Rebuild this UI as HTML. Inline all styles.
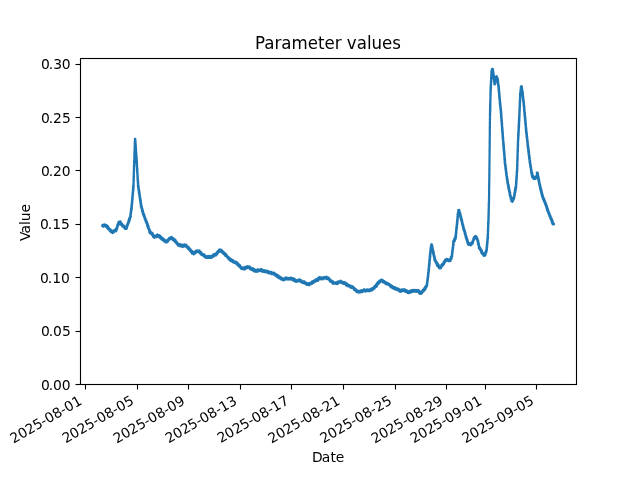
<!DOCTYPE html>
<html lang="en"><head><meta charset="utf-8"><title>Parameter values</title>
<style>html,body{margin:0;padding:0;background:#fff;overflow:hidden}svg{display:block}text{font-family:"DejaVu Sans","Liberation Sans",sans-serif;fill:#000}.t{font-size:13.889px}.h{font-size:16.667px}</style></head><body>
<svg width="640" height="480" viewBox="0 0 640 480">
<rect width="640" height="480" fill="#fff"/>
<path d="M102.3 226.1 102.4 224.8 102.9 226.7 103.0 224.7 103.6 226.7 103.6 224.6 104.1 226.2 104.3 224.9 104.7 226.0 104.8 224.4 105.3 226.4 106.0 224.9 105.1 226.1 106.0 225.3 105.5 226.2 106.8 225.2 106.0 226.4 107.1 225.6 106.2 227.0 107.3 226.3 106.7 227.5 108.1 226.3 107.3 227.7 108.4 227.2 107.5 228.6 108.7 227.7 108.0 229.0 109.2 228.1 108.2 229.2 109.5 228.6 108.8 229.4 109.9 228.8 109.1 230.0 110.3 229.3 109.5 230.1 110.8 229.5 109.7 230.9 111.0 230.1 110.2 231.1 111.3 230.7 110.6 231.7 111.8 231.2 110.9 232.3 112.2 231.5 111.4 232.5 112.7 231.8 112.6 233.2 111.8 231.2 112.8 232.2 112.4 230.8 113.4 232.4 113.0 230.9 114.0 232.3 113.5 230.5 114.5 231.6 114.3 230.6 114.9 231.3 114.5 229.9 115.6 231.2 115.1 229.6 116.2 231.3 115.5 230.3 116.3 230.5 115.7 230.0 116.7 230.1 115.9 229.6 117.0 229.7 115.9 229.1 117.1 229.2 116.2 228.5 117.3 228.6 116.6 227.9 117.4 228.0 116.6 227.3 117.7 227.3 116.8 226.8 117.7 226.8 117.1 226.3 117.9 226.3 117.3 225.7 118.1 225.7 117.4 225.1 118.4 225.3 117.4 224.8 118.7 225.1 117.7 224.3 118.8 224.4 117.9 223.7 119.2 223.9 118.2 223.0 119.5 223.3 118.4 222.3 119.4 222.4 118.6 221.7 119.8 221.9 119.9 221.2 119.0 222.3 120.4 221.4 119.6 222.5 120.8 221.9 120.1 222.9 121.1 222.5 120.2 223.7 121.5 223.1 120.7 224.3 122.0 223.6 121.0 225.0 122.4 224.0 121.8 225.2 122.7 224.7 121.8 225.6 122.7 225.1 122.1 225.9 123.4 225.3 122.5 226.7 123.9 225.4 123.2 226.5 124.1 225.9 123.4 227.0 124.5 226.4 124.0 227.5 125.1 226.9 124.4 228.1 125.6 227.2 124.6 228.7 125.7 228.2 125.1 228.9 126.4 227.9 126.6 229.0 125.6 228.4 126.5 228.5 125.6 227.9 127.0 228.1 126.1 227.4 127.0 227.3 126.1 226.6 127.4 226.7 126.6 226.1 127.6 226.0 126.6 225.3 127.7 225.4 127.0 224.9 127.7 224.9 127.2 224.4 128.3 224.5 127.5 223.9 128.2 223.9 127.6 223.4 128.4 223.4 127.9 222.8 128.6 222.9 128.0 222.3 129.0 222.7 128.2 222.2 128.9 222.1 128.4 221.5 129.3 221.5 128.4 221.0 129.6 220.9 128.7 220.5 129.4 220.3 128.7 219.8 129.9 219.8 129.0 219.2 130.0 219.3 129.1 218.7 130.2 218.8 129.2 218.2 130.1 218.1 129.6 217.6 130.4 217.5 129.9 217.0 130.8 217.0 130.1 216.6 130.9 216.5 130.2 216.2 130.7 216.0 130.2 215.6 130.7 215.4 130.3 215.0 130.9 214.8 130.4 214.4 131.0 214.2 130.5 213.8 131.0 213.6 130.5 213.2 131.1 213.0 130.7 212.7 131.3 212.4 130.6 212.1 131.2 211.8 130.8 211.5 131.3 211.3 130.8 210.9 131.4 210.7 130.9 210.3 131.7 210.1 131.0 209.7 131.7 209.5 131.0 209.1 131.8 208.9 131.3 208.5 131.9 208.3 131.1 207.9 131.9 207.7 131.4 207.5 131.9 207.4 131.4 207.0 131.9 206.8 131.5 206.4 132.1 206.2 131.4 205.8 132.0 205.6 131.5 205.2 132.0 204.9 131.5 204.6 132.2 204.3 131.6 204.0 132.2 203.8 131.8 203.4 132.2 203.2 131.8 202.8 132.3 202.6 131.9 202.3 132.4 202.0 131.9 201.6 132.4 201.4 132.0 201.0 132.5 200.8 131.9 200.4 132.5 200.2 132.1 199.8 132.6 199.6 132.2 199.2 132.7 199.0 132.1 198.6 132.6 198.4 132.2 198.0 132.7 197.7 132.3 197.4 132.8 197.5 132.3 197.1 132.8 196.9 132.3 196.5 132.7 196.3 132.4 195.9 132.8 195.7 132.4 195.3 132.9 195.1 132.5 194.7 133.0 194.5 132.6 194.2 133.0 193.9 132.6 193.6 133.0 193.4 132.6 193.0 133.1 192.8 132.6 192.4 133.2 192.2 132.8 191.8 133.3 191.5 132.8 191.2 133.2 190.9 132.8 190.6 133.3 190.3 132.9 190.0 133.4 189.8 132.9 189.4 133.5 189.2 132.9 188.8 133.4 188.5 133.1 188.2 133.5 187.9 133.0 187.6 133.5 187.3 133.2 187.0 133.6 186.7 133.1 186.4 133.6 186.1 133.2 185.9 133.6 185.6 133.2 185.3 133.7 185.0 133.4 184.9 133.7 184.6 133.4 184.3 133.7 184.0 133.4 183.7 133.6 183.4 133.5 183.1 133.7 182.8 133.5 182.5 133.7 182.2 133.5 181.9 133.8 181.6 133.5 181.3 133.8 181.0 133.5 180.7 133.8 180.4 133.5 180.1 133.9 179.8 133.5 179.5 133.8 179.2 133.5 178.9 133.8 178.6 133.6 178.3 133.9 178.0 133.5 177.7 133.9 177.4 133.6 177.1 133.9 176.8 133.6 176.5 134.0 176.3 133.6 175.9 134.0 175.7 133.7 175.3 133.9 175.0 133.7 174.7 134.0 174.4 133.7 174.1 134.0 173.8 133.7 173.5 134.0 173.2 133.7 172.9 134.0 172.6 133.8 172.3 134.0 172.0 133.8 171.7 134.1 171.4 133.8 171.1 134.1 170.8 133.8 170.5 134.1 170.2 133.8 169.9 134.1 169.6 133.8 169.3 134.1 169.0 133.9 168.7 134.1 168.4 133.9 168.1 134.2 167.8 133.9 167.5 134.2 167.2 133.9 166.9 134.2 166.6 133.9 166.3 134.3 166.0 134.0 165.7 134.3 165.4 134.0 165.1 134.3 164.8 134.1 164.5 134.3 164.2 134.0 163.9 134.4 163.6 134.1 163.3 134.4 163.0 134.1 162.7 134.4 162.4 134.1 162.1 134.3 161.8 134.1 161.5 134.4 161.2 134.1 160.9 134.5 160.6 134.2 160.3 134.4 160.0 134.2 160.0 134.5 159.7 134.2 159.4 134.5 159.1 134.2 158.8 134.5 158.5 134.3 158.2 134.5 157.9 134.3 157.6 134.6 157.3 134.2 157.0 134.5 156.7 134.3 156.4 134.6 156.1 134.3 155.8 134.6 155.5 134.3 155.2 134.6 154.9 134.3 154.6 134.7 154.3 134.4 154.0 134.8 153.7 134.4 153.4 134.7 153.1 134.4 152.8 134.7 152.5 134.4 152.2 134.7 151.9 134.4 151.6 134.8 151.3 134.5 151.0 134.8 150.7 134.5 150.4 134.9 150.1 134.5 149.8 134.8 149.5 134.6 149.2 134.9 148.9 134.6 148.6 134.9 148.3 134.5 148.0 134.9 147.7 134.6 147.4 135.0 147.1 134.6 146.8 135.0 146.5 134.6 146.2 135.0 145.9 134.7 145.6 135.0 145.3 134.7 145.0 135.1 144.8 134.8 144.5 135.1 144.2 134.7 143.8 135.1 143.6 134.7 143.2 135.2 143.0 134.7 142.6 135.1 142.3 134.8 142.0 135.1 141.7 134.9 141.4 135.2 141.1 134.8 140.8 135.2 140.5 134.9 140.2 135.2 140.0 134.9 139.6 135.3 139.4 135.0 139.1 134.9 138.8 135.3 138.8 135.0 139.1 135.4 139.4 135.0 139.7 135.4 140.0 134.9 140.3 135.5 140.6 135.1 140.9 135.4 141.2 135.1 141.5 135.6 141.8 135.1 142.1 135.5 142.4 135.2 142.7 135.6 143.0 135.1 143.3 135.7 143.6 135.3 143.9 135.7 144.2 135.3 144.5 135.8 144.8 135.3 145.1 135.8 145.4 135.3 145.7 135.9 146.0 135.4 146.3 135.8 146.6 135.5 146.9 135.9 147.2 135.6 147.5 135.9 147.8 135.6 148.1 136.0 148.4 135.5 148.7 136.1 149.0 135.6 149.3 136.0 149.6 135.7 149.9 136.0 150.2 135.8 150.5 136.1 150.8 135.7 151.1 136.3 151.4 135.8 151.7 136.2 152.0 135.8 152.3 136.3 152.6 135.9 153.0 136.3 153.2 136.0 153.6 136.4 153.8 135.9 154.2 136.4 154.4 136.0 154.8 136.4 155.0 136.0 155.3 136.6 155.6 136.2 155.9 136.6 156.2 136.1 156.5 136.6 156.8 136.1 157.2 136.6 157.4 136.2 157.7 136.7 158.0 136.4 158.3 136.8 158.6 136.4 158.9 136.7 159.2 136.3 159.5 136.8 159.8 136.5 160.0 136.8 160.1 136.4 160.4 136.9 160.7 136.4 161.0 136.9 161.3 136.4 161.6 137.0 161.9 136.5 162.2 136.9 162.5 136.5 162.8 137.0 163.1 136.7 163.4 137.1 163.6 136.6 164.0 137.1 164.3 136.7 164.6 137.1 164.9 136.6 165.2 137.1 165.5 136.7 165.8 137.1 166.1 136.8 166.4 137.2 166.6 136.9 167.0 137.1 167.2 136.9 167.6 137.3 167.8 136.9 168.2 137.4 168.4 136.9 168.8 137.4 169.0 136.9 169.4 137.3 169.6 137.1 170.0 137.5 170.2 137.0 170.6 137.4 170.8 137.0 171.2 137.4 171.4 137.2 171.8 137.5 172.1 137.2 172.4 137.5 172.7 137.1 173.0 137.6 173.3 137.3 173.6 137.6 173.9 137.3 174.2 137.6 174.5 137.3 174.8 137.7 175.1 137.4 175.4 137.7 175.7 137.4 176.0 137.8 176.3 137.4 176.6 137.8 176.9 137.4 177.2 137.8 177.5 137.5 177.8 137.8 178.0 137.5 178.4 137.9 178.6 137.5 179.0 137.9 179.2 137.6 179.6 138.0 179.8 137.6 180.2 138.1 180.5 137.7 180.8 138.1 181.0 137.6 181.4 138.1 181.6 137.7 181.9 138.2 182.2 137.8 182.6 138.2 182.9 137.8 183.2 138.3 183.5 137.8 183.8 138.3 184.0 137.9 184.3 138.3 184.6 137.9 185.0 138.5 185.0 137.9 185.3 138.4 185.6 138.0 185.9 138.6 186.1 137.9 186.5 138.6 186.7 138.1 187.1 138.8 187.3 138.1 187.8 138.8 188.0 138.4 188.3 138.9 188.6 138.4 188.9 139.0 189.1 138.4 189.5 139.1 189.7 138.6 190.1 139.2 190.3 138.5 190.7 139.4 190.9 138.9 191.2 139.4 191.4 138.9 191.8 139.5 192.0 138.8 192.4 139.6 192.6 138.9 193.0 139.5 193.2 139.0 193.6 139.7 193.8 139.1 194.2 139.7 194.4 139.3 194.8 139.9 195.0 139.4 195.3 140.0 195.6 139.3 196.0 140.1 196.2 139.3 196.3 140.1 196.5 139.6 196.9 140.1 197.0 139.6 197.4 140.2 197.7 139.6 198.1 140.2 198.3 139.9 198.6 140.6 198.8 139.8 199.3 140.5 199.5 140.0 199.9 140.7 200.1 140.0 200.5 140.7 200.7 140.2 201.1 140.9 201.3 140.4 201.7 141.0 201.8 140.3 202.3 140.9 202.5 140.3 202.9 141.0 203.1 140.5 203.5 141.2 203.7 140.7 204.0 141.4 204.2 140.6 204.6 141.3 204.8 140.9 205.2 141.3 205.4 140.8 205.8 141.5 206.0 140.8 206.4 141.8 206.1 140.8 206.6 141.7 206.8 141.1 207.3 142.0 207.3 141.3 207.9 142.1 208.0 141.4 208.4 142.4 208.5 141.6 208.9 142.4 209.0 141.8 209.6 142.5 209.6 141.9 210.2 142.8 210.2 141.9 210.8 143.1 210.8 142.3 211.4 143.0 211.5 142.3 212.1 143.3 212.1 142.7 212.6 143.5 212.7 142.7 213.2 143.7 213.2 142.8 213.8 143.9 213.8 142.9 214.4 144.1 214.4 143.1 214.8 144.0 214.8 143.4 215.2 144.4 215.1 143.6 215.6 144.5 215.5 143.7 216.2 144.8 216.0 143.9 216.6 144.8 216.7 144.2 217.3 145.0 217.4 144.4 218.0 145.4 218.0 144.7 218.6 145.7 218.5 144.7 219.3 145.7 219.1 144.9 219.7 145.9 219.7 145.3 220.3 146.4 220.2 145.5 220.8 146.5 220.8 145.8 221.4 146.7 221.3 145.8 222.0 146.8 221.9 146.1 222.5 147.1 222.3 146.1 222.5 147.0 222.6 146.4 223.3 147.5 223.0 146.6 223.7 147.7 223.7 146.9 224.3 147.8 224.3 147.0 224.9 148.0 224.8 147.1 225.5 148.3 225.5 147.3 226.2 148.5 225.9 147.5 226.7 148.5 226.7 147.7 227.3 148.8 227.3 148.1 228.0 148.9 228.0 148.1 228.6 149.3 228.5 148.6 229.0 149.4 229.0 148.8 229.4 149.6 229.4 148.8 230.0 149.9 230.0 149.1 230.5 149.8 230.7 149.2 231.3 150.4 231.1 149.2 232.0 150.4 231.7 149.6 232.7 150.9 231.9 149.9 233.1 151.2 232.2 150.2 233.4 151.5 232.7 150.8 233.6 151.9 233.2 151.0 233.9 152.5 232.9 151.5 234.1 152.8 233.4 152.0 234.5 153.0 234.0 152.2 235.2 153.4 234.7 152.7 235.8 153.8 235.3 152.9 236.5 154.2 235.7 153.2 236.9 154.5 236.4 154.4 237.9 154.0 236.2 154.8 237.7 154.6 235.9 155.3 237.5 155.2 235.9 155.8 237.1 155.6 235.6 156.4 237.1 156.4 235.7 157.1 236.9 156.8 234.8 157.7 236.7 157.4 234.4 158.3 236.6 158.0 234.8 158.1 236.0 158.8 235.4 158.4 236.0 159.5 235.2 158.6 236.7 159.7 236.0 159.1 237.3 160.5 236.2 159.6 237.8 160.7 236.7 160.3 237.5 161.4 236.9 160.5 238.6 161.7 237.5 161.1 238.8 162.0 238.3 161.3 239.3 162.8 238.0 161.7 239.6 163.0 238.2 162.3 239.9 163.5 238.8 162.8 240.3 163.9 239.2 163.3 240.3 164.3 239.3 163.6 241.1 164.8 240.1 164.1 241.5 165.3 240.2 164.7 241.1 165.7 240.5 165.4 241.3 166.3 240.7 165.5 242.5 166.7 241.2 166.1 242.3 165.9 241.3 167.2 242.3 166.3 240.9 167.8 241.8 166.9 240.6 168.1 241.5 167.5 240.3 168.5 240.7 167.6 239.6 168.8 240.4 168.3 239.4 169.1 239.7 168.6 239.0 169.6 239.5 168.8 238.4 170.1 239.2 169.3 237.8 170.4 238.5 169.8 237.6 170.9 238.3 171.1 236.8 170.3 238.0 171.3 237.3 170.6 238.7 171.9 237.1 171.2 238.8 172.2 237.8 171.6 239.2 172.6 238.3 172.1 239.6 173.4 238.2 172.7 239.6 173.7 238.8 173.3 239.8 174.2 239.2 173.5 240.6 174.7 239.2 174.2 240.5 175.2 239.8 174.4 241.0 175.7 240.1 174.7 241.0 175.9 240.7 174.9 241.8 176.0 241.4 175.2 242.3 176.6 241.7 175.8 242.7 177.0 242.2 176.2 243.3 177.1 243.0 176.5 243.6 177.7 243.2 176.9 244.1 177.9 243.7 177.2 244.3 178.3 243.8 177.6 244.8 178.4 243.5 177.9 245.6 178.6 244.2 178.5 245.7 179.3 244.1 179.0 246.0 179.7 244.8 179.6 246.2 180.4 244.2 180.2 246.0 181.0 244.6 180.8 246.4 181.6 244.5 181.4 246.0 182.1 244.9 182.0 246.7 182.7 245.2 182.7 247.1 182.6 245.0 183.2 246.3 183.2 244.8 183.9 246.8 183.8 244.7 184.4 246.3 184.3 244.3 185.0 245.9 185.0 244.5 185.6 245.8 186.0 244.8 185.3 245.6 186.4 244.9 185.5 246.4 186.8 245.4 186.2 246.6 187.2 246.0 186.5 247.3 187.6 246.3 187.0 247.6 188.2 246.7 187.4 247.9 188.3 247.4 187.7 248.4 189.0 247.4 188.3 248.5 189.1 248.0 188.3 249.1 189.7 248.2 188.9 249.5 190.0 248.9 189.3 250.2 190.5 249.2 189.6 250.5 190.8 249.8 190.0 251.0 191.3 250.2 190.6 251.4 191.7 250.8 190.8 252.2 192.2 251.1 191.3 252.4 192.6 251.4 191.9 252.7 192.9 252.2 192.0 253.6 193.3 252.7 193.5 254.3 192.8 252.7 193.7 254.5 193.4 252.5 194.1 253.6 194.0 252.4 194.8 253.7 194.5 251.9 195.4 253.3 195.1 251.6 196.0 252.9 195.6 250.7 196.5 252.4 196.3 250.8 197.0 252.0 196.9 251.1 197.5 251.8 197.3 250.4 198.2 252.0 198.6 250.5 197.8 252.0 198.8 250.7 198.1 251.9 199.5 250.4 198.9 251.9 199.9 251.1 199.2 252.7 200.1 251.9 199.6 253.1 200.7 252.2 200.2 253.7 201.4 252.2 200.6 254.2 201.6 253.5 201.1 254.6 202.0 253.8 201.5 255.0 202.8 253.8 202.0 255.3 202.8 254.4 202.5 255.1 203.5 254.3 202.9 255.6 204.1 254.3 203.4 255.9 204.4 254.9 204.0 256.1 205.0 255.2 204.2 256.9 205.4 255.5 204.8 257.0 205.8 256.0 205.3 257.7 206.5 256.3 206.3 257.8 206.2 256.1 206.7 258.1 206.9 256.7 207.2 257.7 207.5 256.6 207.9 258.0 208.0 255.9 208.5 257.9 208.7 256.0 209.0 257.2 209.2 256.1 209.7 257.9 209.9 256.0 210.3 257.9 210.4 255.9 210.8 257.7 211.1 256.6 211.7 257.8 211.1 256.4 211.9 257.1 211.6 255.9 212.6 257.0 212.2 255.6 212.9 256.5 212.5 255.3 213.7 256.7 213.0 255.0 214.1 255.9 213.5 254.2 214.5 255.5 214.1 254.2 215.1 255.6 214.6 254.1 215.6 255.3 215.3 254.1 216.3 255.4 215.7 253.7 216.7 254.6 215.7 253.3 216.9 254.3 216.3 253.0 217.5 254.0 216.9 252.8 217.7 253.2 217.2 251.7 218.3 252.6 217.8 251.4 218.8 252.2 218.0 250.8 219.4 251.9 218.6 250.5 219.6 251.1 218.9 249.9 220.1 250.7 219.4 249.5 220.5 250.5 219.8 249.4 220.0 250.7 221.1 249.6 220.4 250.7 221.6 250.0 220.7 251.5 222.0 250.4 221.1 251.9 222.2 251.2 221.7 251.8 222.9 251.0 222.1 252.5 223.4 251.7 222.5 253.2 223.6 252.5 222.8 253.5 224.1 252.3 223.3 253.4 224.6 252.5 223.6 253.8 224.8 253.0 224.0 254.4 225.4 253.7 224.6 254.6 225.5 253.7 224.6 255.0 226.2 254.0 225.2 255.1 226.4 254.8 225.5 256.2 226.6 255.5 226.3 256.1 227.3 255.6 226.5 256.7 227.5 256.2 227.1 257.1 227.9 256.6 227.4 257.6 228.4 257.0 227.9 258.0 228.8 257.2 228.2 258.3 229.2 257.8 228.5 259.3 229.8 258.4 229.2 259.1 230.3 258.6 229.4 259.9 230.4 258.6 230.0 259.7 230.9 259.0 230.3 260.9 231.5 259.4 230.8 261.1 231.9 259.8 231.4 261.1 232.3 260.1 232.0 261.1 233.0 260.1 232.4 261.9 233.4 260.5 233.1 261.7 233.9 261.0 233.4 262.7 234.4 261.4 234.1 262.4 235.0 261.6 234.5 262.8 235.6 261.5 235.0 263.1 236.0 261.8 235.4 263.4 236.6 261.8 235.9 263.0 236.8 262.3 236.2 263.3 237.1 262.9 236.5 264.2 237.9 263.1 237.1 264.3 238.3 263.5 237.4 265.0 238.5 264.2 237.9 265.4 239.2 264.5 238.3 266.0 239.7 264.8 238.7 266.3 240.0 265.4 239.3 266.6 240.2 266.1 239.7 267.2 240.7 266.7 240.3 267.7 241.4 266.8 240.8 267.9 241.6 267.4 241.0 268.7 242.2 267.7 241.5 268.8 242.8 267.7 242.0 269.1 242.4 268.0 242.8 269.0 242.9 267.8 243.4 269.3 243.4 267.4 244.0 269.6 244.0 267.6 244.5 269.1 244.6 267.8 245.2 269.4 245.1 266.9 245.8 268.4 245.8 266.8 246.3 268.5 246.0 267.3 246.7 268.1 246.3 266.8 247.3 268.2 246.8 266.5 247.7 267.7 247.4 266.1 248.5 267.5 248.2 266.4 249.0 267.7 249.2 266.4 248.4 267.9 249.6 266.7 248.9 268.2 250.2 266.9 249.5 268.5 250.7 267.3 250.0 268.7 251.0 268.0 250.3 269.5 251.5 268.1 251.0 269.7 252.1 268.4 251.4 270.0 252.5 268.7 252.2 269.9 252.8 268.4 252.4 270.2 253.2 268.3 253.0 270.2 253.8 269.1 253.5 271.2 254.4 269.2 254.1 271.3 255.0 269.9 254.7 271.7 255.6 269.8 255.3 271.7 256.1 270.0 255.8 271.8 256.1 269.8 256.5 271.4 256.6 270.2 257.1 271.9 257.2 269.6 257.7 270.8 257.8 269.4 258.3 271.3 258.4 269.4 258.9 271.4 259.0 269.7 259.4 270.9 259.6 269.7 260.0 270.9 260.2 269.7 260.7 271.1 260.7 269.0 261.3 270.9 261.6 269.1 261.2 271.1 261.9 270.3 261.7 271.5 262.6 269.9 262.4 271.5 263.2 270.2 262.8 272.1 263.7 270.5 263.4 271.8 264.3 270.1 264.1 271.7 264.8 270.6 264.5 272.2 265.4 270.7 265.1 272.1 265.8 270.7 265.7 272.1 266.6 270.5 266.0 272.5 266.7 270.8 266.7 272.3 267.2 271.5 267.2 272.7 267.9 270.9 267.8 272.9 268.4 271.8 268.4 273.1 269.1 271.7 268.9 273.4 269.7 271.5 269.6 272.9 270.1 272.0 270.1 273.5 270.7 272.1 270.7 273.6 271.4 271.9 271.0 273.5 271.7 272.5 271.4 274.2 272.2 273.0 271.9 274.4 272.7 272.7 272.6 273.9 273.5 272.5 273.2 274.0 274.1 272.7 273.7 274.6 274.4 273.5 274.3 274.8 275.1 273.4 274.7 275.3 275.6 274.1 275.4 275.6 276.2 274.4 275.9 276.1 276.7 274.4 276.1 276.1 277.1 275.2 276.5 276.7 277.8 275.3 277.1 276.7 278.3 275.3 277.7 276.9 278.8 275.7 278.0 277.7 279.2 276.4 278.5 278.0 279.5 276.9 279.0 278.2 280.2 276.7 279.6 278.4 280.7 277.2 280.2 278.5 281.3 277.4 280.6 279.3 281.7 278.0 281.2 279.2 282.2 278.3 281.7 279.8 282.8 278.7 282.6 280.2 282.4 278.7 283.0 279.9 283.0 278.4 283.7 280.4 283.6 278.9 284.2 280.3 284.2 278.8 284.8 279.8 284.7 278.1 285.3 279.0 285.3 277.5 285.9 279.1 285.9 277.4 286.1 278.9 286.5 277.6 286.4 279.4 287.0 277.8 287.0 279.6 287.6 278.1 287.6 279.4 288.2 278.2 288.3 279.2 288.8 278.1 288.8 279.6 289.4 278.0 289.5 279.5 290.0 277.8 290.1 279.0 290.6 277.6 290.6 279.4 291.2 278.0 290.9 279.7 291.6 277.9 291.4 279.4 292.2 278.0 291.8 279.8 292.7 278.7 292.6 279.9 293.4 278.4 293.1 280.6 293.9 279.1 293.6 280.5 294.5 278.7 294.2 280.8 295.1 279.3 294.7 281.2 295.5 280.2 295.3 281.6 295.4 279.9 296.0 282.0 296.0 280.3 296.5 281.5 296.6 280.1 297.2 281.7 297.2 280.3 297.8 281.7 297.8 280.1 298.4 281.2 298.4 279.5 299.0 280.8 299.1 279.5 299.1 280.6 299.8 279.4 299.2 281.1 300.3 279.8 299.8 281.3 301.0 280.0 300.3 281.6 301.4 280.3 300.8 282.2 301.9 281.0 301.5 282.3 302.3 281.3 302.1 282.2 302.8 281.8 302.4 283.1 303.5 281.4 303.1 282.2 304.1 281.2 303.4 283.2 304.2 281.6 303.9 282.9 304.8 281.7 304.4 283.3 305.2 282.6 304.8 283.7 305.8 282.5 305.3 284.0 306.4 282.7 306.0 284.2 306.9 283.3 306.4 284.7 307.5 283.2 306.9 284.9 308.0 283.3 307.4 285.1 308.5 283.4 308.1 284.8 308.1 283.6 309.1 285.3 308.4 283.5 309.7 284.9 309.0 283.3 309.9 284.0 309.5 282.9 310.5 284.0 310.0 282.9 310.9 284.0 310.6 282.8 311.6 284.1 311.2 282.8 312.1 283.8 311.7 282.1 312.7 283.2 312.0 281.4 313.2 283.0 312.6 281.3 313.8 282.8 313.2 281.3 314.2 282.3 313.6 281.0 314.5 282.2 314.0 280.8 314.8 281.5 314.3 280.2 315.4 281.5 314.9 279.9 316.1 281.5 315.5 279.6 316.6 281.0 315.9 279.2 317.0 280.8 316.4 279.0 317.5 280.7 317.2 279.4 318.2 280.8 317.7 279.0 318.6 279.9 318.0 277.9 319.1 279.0 318.6 277.5 319.7 279.1 319.1 277.3 320.1 278.5 319.8 276.9 320.2 279.2 320.3 277.5 320.8 279.4 320.8 277.5 321.4 279.0 321.4 277.3 322.0 279.3 322.1 277.8 322.6 279.3 322.6 277.5 323.2 279.4 323.3 277.6 323.8 278.7 323.8 277.0 324.3 278.6 324.4 277.1 324.9 278.3 325.1 277.5 325.5 278.4 325.9 276.9 325.3 278.2 326.4 276.5 326.0 278.0 326.8 277.3 326.4 279.1 327.5 277.3 327.1 278.8 328.0 277.5 327.7 279.1 328.6 277.5 328.1 279.4 329.0 278.1 328.3 279.5 329.4 278.6 328.8 279.6 329.8 279.0 329.2 280.1 330.3 279.4 329.5 280.7 330.8 280.0 329.9 281.4 331.2 280.3 330.2 281.8 331.6 280.6 330.8 281.8 332.1 280.9 331.3 282.2 332.4 281.3 331.8 282.6 332.9 281.7 332.3 282.8 333.0 281.3 332.6 283.7 333.6 281.9 333.2 283.8 334.0 282.4 333.9 283.7 334.6 282.7 334.3 284.0 335.1 282.8 335.0 283.8 335.9 282.2 335.5 283.7 336.2 282.8 336.7 284.1 335.8 283.0 337.0 284.1 336.5 282.9 337.5 284.0 337.0 282.6 338.0 283.7 337.2 281.9 338.3 282.8 337.8 281.7 339.1 283.0 338.3 281.2 339.3 282.3 339.0 281.6 340.0 282.5 339.5 281.4 339.6 282.4 340.4 280.7 340.0 282.3 341.0 280.9 340.6 282.5 341.5 281.5 341.1 282.8 341.9 281.7 341.6 283.3 342.6 281.6 342.3 283.0 343.1 282.2 342.8 283.6 343.8 282.1 343.3 283.9 344.3 282.2 343.4 283.9 344.6 282.4 344.1 283.7 345.2 282.3 344.6 283.8 345.7 282.6 345.0 284.3 346.1 283.3 345.6 284.6 346.6 283.7 346.0 285.4 347.2 283.7 346.7 285.2 347.5 284.6 347.1 286.0 347.9 284.4 347.5 285.9 348.4 284.5 347.9 286.4 348.8 284.8 348.5 286.4 349.4 285.1 349.2 286.4 349.9 285.4 349.7 286.7 350.4 286.0 350.2 287.5 351.1 285.9 350.9 287.4 351.8 285.9 351.3 288.1 352.3 286.5 351.6 287.5 352.7 286.6 352.0 288.0 353.2 286.6 352.5 288.1 353.5 287.3 353.2 288.2 354.0 287.7 353.6 288.7 354.7 288.0 353.9 289.7 355.1 288.7 354.3 290.2 355.6 288.9 354.8 290.3 355.9 289.2 355.5 290.5 356.6 289.8 355.8 291.5 356.6 290.1 356.2 291.5 357.2 290.5 356.8 291.7 357.8 290.5 357.2 292.3 358.4 290.8 357.8 292.5 358.6 291.2 358.4 292.4 359.4 291.2 358.8 292.8 359.8 291.4 359.3 292.4 359.6 290.7 360.2 292.1 359.9 290.8 360.9 292.4 360.5 290.5 361.5 292.1 361.0 290.4 362.1 292.2 361.6 290.3 362.5 291.9 362.2 290.1 363.2 291.7 362.8 290.1 363.6 291.1 363.4 289.9 363.8 291.0 363.9 289.2 364.2 290.6 364.5 289.3 364.8 291.2 365.1 289.8 365.4 291.6 365.7 289.9 366.0 291.2 366.3 289.5 366.6 291.3 366.9 290.0 367.2 291.2 367.5 289.3 367.8 290.9 368.1 289.7 368.4 291.3 368.7 289.5 369.0 291.2 369.3 290.1 369.6 291.3 369.9 289.2 370.4 291.1 369.6 289.5 370.8 290.6 370.1 289.4 371.1 290.1 370.7 288.8 371.9 290.4 371.3 289.1 372.4 290.3 371.7 288.4 372.8 289.3 372.4 288.1 373.4 289.1 372.8 287.9 373.8 289.1 373.3 287.9 374.0 288.4 373.5 287.8 374.6 288.4 373.9 287.5 374.9 287.9 374.1 286.7 375.3 287.5 374.5 286.6 375.7 287.1 374.8 285.9 376.1 286.7 375.4 285.9 376.7 286.7 375.8 285.5 377.0 286.1 376.0 284.7 377.3 285.0 376.4 283.8 377.8 284.7 376.9 283.3 377.9 284.0 377.3 283.3 378.4 283.9 377.3 282.6 378.6 283.5 378.0 282.4 379.2 283.1 378.2 281.8 379.6 282.8 378.6 281.4 380.0 282.4 379.1 281.2 380.1 281.7 379.5 280.7 380.8 281.4 380.0 280.3 381.0 280.8 380.3 280.0 380.5 280.7 381.3 279.6 380.8 280.8 382.0 279.5 381.5 280.9 382.4 279.9 382.0 281.2 383.0 280.2 382.3 281.9 383.5 280.8 382.8 282.5 383.9 281.1 383.5 282.1 384.5 281.2 384.1 282.5 384.9 281.6 384.4 283.1 385.4 281.9 384.7 283.4 385.7 282.4 385.3 283.5 386.4 282.4 385.8 284.1 386.7 283.1 386.3 284.5 387.2 283.3 387.0 284.0 387.9 282.9 387.5 284.4 388.3 283.7 388.0 284.7 388.8 283.8 388.4 284.9 389.0 283.8 388.7 285.1 389.6 284.1 389.3 285.6 390.1 284.8 389.8 286.1 390.8 284.8 390.3 286.7 391.2 285.6 390.7 287.1 391.8 285.6 391.2 287.6 392.4 285.9 391.8 287.5 392.7 286.3 392.3 287.7 393.3 286.5 392.8 288.4 393.8 287.1 393.3 288.6 393.9 287.4 393.7 288.3 394.6 287.1 394.3 288.3 395.3 287.2 394.6 289.3 395.6 287.9 395.2 289.6 396.3 287.8 395.8 289.8 396.7 288.3 396.3 289.8 397.3 288.5 396.8 290.0 397.9 288.4 397.4 290.1 398.4 288.7 397.9 290.5 398.9 288.9 398.5 290.6 399.5 289.5 399.1 291.0 400.0 290.1 399.5 291.6 400.0 290.5 400.3 292.0 400.4 289.9 400.8 291.2 400.9 289.5 401.5 291.5 401.5 289.4 402.1 290.9 402.2 289.2 402.7 291.1 402.8 289.5 403.2 291.2 403.4 289.5 403.8 290.9 404.1 289.0 403.7 290.8 404.6 289.4 404.3 291.1 405.1 290.0 404.9 291.4 405.8 289.9 405.3 291.9 406.3 290.4 405.9 292.0 406.9 290.4 406.5 292.3 407.3 291.0 407.1 292.4 407.9 290.9 407.5 293.0 407.8 291.2 408.5 293.3 408.2 291.2 409.0 292.6 408.9 291.2 409.7 292.8 409.3 291.0 410.2 292.7 409.9 290.8 410.8 292.6 410.5 291.0 411.3 292.1 411.0 290.3 411.8 291.6 411.7 290.4 412.5 291.9 412.1 289.9 412.4 291.3 412.9 290.2 412.9 291.9 413.5 289.9 413.5 291.6 414.1 289.9 414.1 291.8 414.7 290.0 414.8 291.2 415.2 290.2 415.3 291.6 415.9 289.8 415.9 291.7 416.4 290.0 416.5 291.9 417.1 290.5 416.7 291.5 417.5 290.4 417.0 291.6 418.1 289.9 417.8 291.7 418.5 291.2 418.3 292.2 419.3 290.7 418.8 292.8 419.8 291.4 419.2 293.5 420.3 292.1 419.8 293.9 420.7 292.6 420.4 293.9 421.4 292.3 421.7 293.7 420.7 292.5 421.9 293.1 421.0 292.1 422.3 292.7 421.6 291.8 422.6 292.2 421.9 291.2 423.0 291.7 422.2 290.7 423.6 291.5 422.6 290.0 424.0 290.7 423.1 289.6 424.2 290.1 423.6 289.5 424.9 290.1 423.8 288.9 424.8 289.4 424.1 288.6 425.4 289.3 424.3 288.2 425.7 288.6 424.6 287.7 425.9 288.2 425.0 287.1 426.1 287.4 425.3 286.5 426.6 287.0 425.9 286.2 426.8 286.5 426.0 285.5 427.2 285.9 426.6 285.4 427.2 285.5 426.6 285.1 427.2 284.8 426.8 284.5 427.3 284.3 426.8 283.9 427.3 283.7 426.9 283.3 427.5 283.1 427.0 282.7 427.5 282.5 427.0 282.1 427.5 281.9 427.1 281.6 427.7 281.4 427.2 281.0 427.8 280.7 427.3 280.3 427.7 280.1 427.4 279.8 427.9 279.5 427.3 279.2 428.0 279.0 427.4 278.6 427.9 278.4 427.5 278.0 428.2 277.8 427.7 277.4 428.2 277.2 427.8 276.8 428.3 276.6 427.8 276.2 428.4 276.0 427.8 275.6 428.4 275.5 427.9 275.3 428.4 275.1 428.0 274.8 428.5 274.5 428.0 274.1 428.5 273.9 428.1 273.5 428.5 273.3 428.1 273.0 428.6 272.7 428.1 272.3 428.8 272.1 428.3 271.8 428.9 271.5 428.4 271.2 428.9 270.9 428.3 270.5 428.8 270.3 428.5 270.0 429.0 269.7 428.4 269.4 429.1 269.1 428.6 268.8 429.0 268.5 428.7 268.2 429.1 267.9 428.8 267.6 429.2 267.3 428.8 267.0 429.3 266.7 428.8 266.3 429.2 266.1 428.8 265.7 429.5 265.5 428.9 265.2 429.5 265.0 429.0 264.6 429.6 264.3 429.0 263.9 429.7 263.7 429.1 263.4 429.6 263.1 429.3 263.0 429.6 262.8 429.1 262.5 429.7 262.2 429.3 261.9 429.7 261.7 429.2 261.3 429.7 261.0 429.3 260.7 429.9 260.4 429.4 260.1 430.0 259.8 429.4 259.5 430.0 259.3 429.5 258.9 430.1 258.6 429.7 258.3 430.1 258.1 429.6 257.7 430.3 257.5 429.7 257.1 430.1 256.9 429.7 256.5 430.4 256.3 429.8 255.9 430.3 255.6 429.9 255.3 430.4 255.1 430.0 254.7 430.4 254.4 429.9 254.1 430.5 253.9 430.0 253.5 430.6 253.3 430.2 252.9 430.5 252.7 430.3 252.4 430.7 252.1 430.2 251.8 430.8 251.5 430.2 251.2 430.7 250.9 430.5 250.6 431.0 250.6 430.4 250.3 431.1 250.1 430.4 249.7 431.1 249.5 430.5 249.0 431.2 248.9 430.6 248.5 431.2 248.3 430.6 247.9 431.5 247.7 430.7 247.3 431.6 247.1 430.8 246.7 431.7 246.6 430.9 246.1 431.7 246.0 431.2 245.5 431.8 245.3 431.2 244.9 431.9 244.7 431.2 244.3 431.2 244.4 431.9 244.4 431.5 244.7 432.2 244.9 431.4 245.4 432.2 245.5 431.7 246.0 432.2 246.2 431.8 246.6 432.6 246.7 431.8 247.1 432.6 247.3 431.8 247.7 432.6 247.9 432.0 248.2 432.8 248.4 432.2 248.9 432.8 249.1 432.3 249.5 432.9 249.7 432.4 250.0 433.2 250.1 432.6 250.6 433.4 250.7 432.6 251.2 433.5 251.4 432.6 251.9 433.4 251.8 432.9 252.2 433.8 252.3 432.9 252.8 433.8 252.9 433.0 253.5 433.9 253.5 433.2 254.0 434.0 254.1 433.4 254.6 434.0 254.8 433.6 255.1 434.2 255.3 433.5 255.7 434.5 255.8 433.7 256.4 434.5 256.6 434.0 257.0 434.8 257.1 434.1 257.5 434.9 257.6 434.2 258.0 434.9 258.2 434.2 258.7 435.0 258.8 434.4 259.2 435.2 259.3 434.7 259.8 435.5 259.7 434.5 260.4 435.5 260.3 434.8 261.0 435.9 260.7 435.0 261.4 436.1 261.2 435.3 261.9 436.6 261.7 435.9 262.3 436.8 262.2 435.9 262.9 437.0 262.6 436.2 263.4 437.3 263.2 436.4 263.9 437.7 263.4 436.6 264.5 438.0 264.2 436.8 265.2 438.0 264.5 437.0 265.7 438.5 264.7 437.7 265.8 438.8 265.3 437.9 266.4 439.0 265.9 438.3 267.0 439.6 266.4 438.7 267.4 439.7 267.0 439.0 268.0 440.3 267.3 439.4 268.4 440.6 267.6 440.8 268.4 440.1 267.7 441.1 268.1 440.1 267.1 441.3 267.6 440.4 266.5 441.7 266.9 441.1 266.1 441.8 266.4 441.4 265.9 442.3 266.0 441.3 264.9 442.6 265.4 441.7 264.5 443.1 265.2 442.1 264.0 443.4 264.7 442.6 263.8 443.8 264.5 442.7 263.5 444.0 264.1 443.3 263.0 444.1 263.4 443.5 262.2 444.7 262.8 443.9 262.0 444.9 262.3 444.1 261.3 445.3 261.9 444.6 260.8 445.8 261.3 444.9 260.3 445.9 260.7 445.2 259.7 446.2 260.2 445.5 259.4 446.0 260.4 446.7 258.9 446.4 260.7 447.1 259.5 446.9 260.7 447.7 259.2 447.4 260.8 448.2 259.5 447.9 261.0 448.8 259.4 448.5 261.2 449.3 259.8 449.1 261.0 449.8 259.6 449.5 261.3 449.4 260.7 450.6 261.0 449.6 260.4 450.6 260.3 449.8 259.7 450.8 259.7 450.0 259.2 451.3 259.3 450.3 258.7 451.5 258.7 450.5 258.0 451.6 258.1 450.8 257.6 451.9 257.7 450.9 257.0 452.0 257.1 451.2 256.4 452.3 256.4 451.6 255.9 452.2 256.0 451.7 255.8 452.2 255.5 451.8 255.2 452.3 255.0 451.7 254.6 452.3 254.4 451.9 254.1 452.5 253.9 452.1 253.5 452.5 253.3 452.0 252.9 452.5 252.7 452.0 252.3 452.6 252.1 452.1 251.7 452.6 251.5 452.1 251.2 452.7 251.0 452.3 250.6 452.8 250.3 452.4 250.0 452.9 249.7 452.4 249.4 452.9 249.1 452.5 249.0 453.1 248.8 452.6 248.4 453.2 248.2 452.7 247.9 453.2 247.6 452.6 247.3 453.3 247.1 452.9 246.7 453.2 246.4 452.9 246.1 453.3 245.9 452.9 245.5 453.6 245.3 453.0 244.9 453.6 244.6 453.1 244.2 453.7 244.0 453.1 243.6 453.6 243.3 453.2 243.0 453.7 242.8 453.4 242.4 453.9 242.2 453.0 241.7 453.9 242.0 453.2 241.3 454.3 241.6 453.7 240.9 454.8 241.1 453.8 240.3 454.9 240.4 454.0 239.6 455.1 239.9 454.1 239.1 455.4 239.4 454.6 238.7 455.7 238.8 454.7 238.0 455.7 238.1 455.0 237.3 456.0 237.5 455.3 237.4 455.9 237.2 455.5 236.9 456.0 236.7 455.5 236.3 456.1 236.1 455.4 235.7 456.1 235.5 455.5 235.1 456.1 234.9 455.7 234.5 456.2 234.3 455.8 233.9 456.4 233.7 455.7 233.3 456.4 233.1 455.8 232.7 456.4 232.5 456.0 232.1 456.4 231.9 456.0 231.5 456.4 231.3 456.0 230.9 456.5 230.6 456.0 230.3 456.5 230.0 456.2 229.7 456.8 229.4 456.2 229.1 456.7 228.9 456.2 228.5 456.8 228.3 456.4 227.9 457.0 227.7 456.3 227.3 457.0 227.1 456.5 226.7 457.0 226.5 456.6 226.1 457.0 225.9 456.5 225.5 457.1 225.3 456.7 225.0 457.2 225.0 456.7 224.7 457.3 224.5 456.8 224.1 457.3 223.8 456.8 223.5 457.3 223.2 456.9 222.9 457.5 222.7 456.9 222.3 457.5 222.1 457.0 221.7 457.5 221.4 457.0 221.1 457.4 220.8 457.1 220.5 457.7 220.2 457.1 219.9 457.8 219.7 457.3 219.3 457.7 219.0 457.4 218.7 457.7 218.4 457.3 218.0 457.8 217.8 457.5 217.4 458.0 217.2 457.4 216.8 458.1 216.6 457.6 216.3 458.0 216.0 457.7 215.6 458.1 215.4 457.5 215.1 458.2 215.0 457.5 214.7 458.3 214.6 457.7 214.2 458.5 214.0 457.8 213.6 458.5 213.4 457.8 213.0 458.5 212.8 458.1 212.4 458.7 212.2 458.1 211.8 458.8 211.6 458.3 211.3 459.0 211.1 458.3 210.6 459.0 210.4 458.3 210.0 458.2 210.1 459.3 209.9 458.3 210.5 459.3 210.6 458.6 211.0 459.7 211.1 458.7 211.7 459.6 211.8 458.9 212.2 459.8 212.2 459.2 212.7 460.2 212.8 459.2 213.4 460.1 213.5 459.6 213.9 460.6 214.0 459.6 214.5 460.6 214.5 459.9 215.1 460.8 215.1 460.1 215.7 460.8 215.8 460.2 216.3 461.0 216.1 460.3 216.6 461.1 216.7 460.5 217.2 461.3 217.3 460.5 217.8 461.5 217.9 460.6 218.4 461.5 218.4 460.8 218.9 461.8 219.0 461.0 219.4 461.9 219.5 461.0 220.0 462.1 220.1 461.2 220.6 462.0 220.8 461.6 221.1 462.4 221.3 461.6 221.9 462.3 222.0 461.9 222.4 462.5 222.5 461.8 223.0 462.7 223.0 462.0 223.6 462.8 223.7 462.1 224.2 462.9 224.3 462.2 224.8 463.1 224.9 462.7 225.3 463.4 225.4 462.7 226.0 463.4 226.1 462.8 226.4 463.5 226.3 462.8 226.9 463.7 227.0 463.0 227.6 463.8 227.7 463.1 228.1 463.9 228.3 463.3 228.8 464.2 228.9 463.3 229.4 464.4 229.4 463.8 229.8 464.5 229.8 463.7 230.3 464.8 230.3 464.1 230.8 464.7 230.9 464.1 231.3 465.0 231.4 464.4 231.8 465.1 231.9 464.5 232.4 465.4 232.4 464.7 232.9 465.6 233.0 464.6 233.7 465.6 233.7 464.8 234.2 465.7 234.3 465.1 234.7 465.8 234.8 465.3 235.3 466.1 235.5 465.3 236.0 466.4 236.0 465.6 236.6 466.4 236.6 465.6 237.1 466.5 237.2 465.8 237.5 466.8 237.4 465.9 238.1 466.8 238.0 466.2 238.5 467.0 238.6 466.3 239.2 467.4 239.2 466.4 239.9 467.5 239.8 466.9 240.4 467.8 240.3 467.1 240.8 467.8 240.9 467.3 241.4 468.0 241.4 467.2 242.0 468.4 242.1 467.4 242.7 468.3 242.7 467.5 243.3 468.4 242.8 467.9 244.0 468.9 243.3 468.1 244.4 469.4 243.7 468.5 244.9 469.9 243.9 469.1 244.9 470.4 244.0 470.4 245.4 469.6 244.5 470.9 245.3 469.9 244.1 471.1 244.9 470.3 243.8 471.6 244.6 470.7 243.1 472.0 244.1 471.2 242.9 472.3 243.5 471.6 242.4 473.0 243.3 471.9 242.3 472.8 242.6 472.3 242.0 473.1 242.0 472.4 241.4 473.3 241.4 472.7 240.8 473.6 240.9 472.9 240.3 473.9 240.3 473.2 239.8 474.2 239.8 473.4 239.2 474.4 239.2 473.4 238.5 474.6 238.7 473.7 238.1 474.6 238.1 473.8 237.4 474.7 237.9 474.1 237.0 475.2 238.1 474.7 236.7 475.8 237.7 475.0 236.2 476.1 237.2 475.4 235.9 475.4 236.7 476.4 236.4 475.8 237.0 476.6 236.9 475.8 237.5 477.0 237.2 476.1 237.9 477.1 237.7 476.2 238.3 477.3 238.3 476.5 238.8 477.4 238.8 476.7 239.4 477.8 239.3 477.1 239.9 477.9 239.8 477.3 240.2 478.0 240.3 477.5 240.8 478.3 240.9 477.5 241.5 478.3 241.6 477.7 242.1 478.5 242.3 477.9 242.8 478.6 242.9 477.9 243.4 478.8 243.6 477.9 244.1 479.0 244.1 478.1 244.6 479.0 244.7 478.4 245.2 479.2 245.3 478.6 245.7 479.3 245.9 478.6 246.3 479.5 246.4 478.8 246.9 479.6 247.0 478.8 247.6 479.9 247.5 478.8 248.2 480.3 247.9 479.2 248.7 480.5 248.2 479.3 249.0 480.7 248.4 479.7 249.4 480.8 249.0 480.2 249.6 480.9 249.6 480.4 250.2 481.4 250.1 480.6 250.6 481.8 250.3 480.9 251.0 482.0 250.9 481.1 251.7 482.1 251.7 481.3 252.5 482.3 252.3 481.5 253.2 482.7 252.7 481.9 253.8 483.0 253.2 482.6 253.8 483.6 253.4 482.8 254.7 484.0 253.9 483.4 254.8 484.5 253.9 483.8 254.9 484.9 254.4 483.8 256.0 485.3 254.9 485.1 255.7 484.3 255.3 485.5 255.4 484.5 254.7 485.6 254.7 485.0 254.2 485.5 254.0 484.9 253.6 485.9 253.5 485.1 252.9 486.0 253.0 485.4 252.5 486.4 252.5 485.5 251.8 486.6 251.8 485.8 251.3 486.7 251.3 485.8 250.6 486.9 250.6 486.0 250.0 486.9 250.0 486.3 249.9 486.8 249.7 486.5 249.4 486.9 249.1 486.5 248.8 487.0 248.6 486.5 248.2 487.1 247.9 486.5 247.6 487.1 247.3 486.7 247.0 487.2 246.7 486.6 246.4 487.3 246.1 486.7 245.8 487.2 245.5 486.8 245.2 487.3 245.0 486.9 244.6 487.4 244.4 486.9 244.0 487.4 243.8 487.0 243.4 487.5 243.2 487.1 242.8 487.5 242.6 487.1 242.2 487.7 242.0 487.2 241.7 487.7 241.4 487.2 241.0 487.7 240.8 487.3 240.5 487.8 240.2 487.3 239.9 487.7 239.6 487.3 239.3 487.9 239.0 487.3 238.7 488.0 238.4 487.4 238.1 488.1 237.8 487.6 237.5 488.0 237.5 487.7 237.1 488.0 236.9 487.6 236.6 488.0 236.3 487.6 235.9 488.0 235.7 487.6 235.3 488.0 235.1 487.7 234.7 488.1 234.4 487.7 234.1 488.0 233.8 487.8 233.5 488.1 233.2 487.8 232.9 488.1 232.6 487.9 232.3 488.1 232.0 487.8 231.7 488.2 231.5 487.8 231.1 488.2 230.8 487.8 230.5 488.1 230.2 487.9 229.9 488.3 229.7 487.9 229.3 488.3 229.1 488.0 228.7 488.2 228.5 488.0 228.2 488.3 227.9 488.0 227.5 488.3 227.3 488.0 226.9 488.3 226.7 488.0 226.3 488.4 226.0 488.1 225.7 488.4 225.5 488.1 225.1 488.4 224.8 488.1 224.5 488.4 224.2 488.1 223.9 488.5 223.6 488.1 223.3 488.5 223.1 488.1 222.7 488.6 222.5 488.2 222.2 488.6 221.9 488.2 221.6 488.5 221.3 488.3 221.0 488.6 220.7 488.3 220.4 488.6 220.1 488.3 219.8 488.6 219.5 488.3 219.2 488.7 218.9 488.4 218.8 488.6 218.6 488.4 218.3 488.7 218.0 488.4 217.7 488.7 217.4 488.4 217.1 488.7 216.8 488.4 216.5 488.7 216.2 488.4 215.9 488.7 215.6 488.5 215.2 488.8 215.0 488.5 214.7 488.8 214.4 488.5 214.1 488.8 213.8 488.5 213.5 488.8 213.2 488.5 212.9 488.8 212.6 488.5 212.3 488.8 212.0 488.6 211.7 488.8 211.4 488.5 211.1 488.9 210.8 488.6 210.5 488.8 210.2 488.6 209.9 488.9 209.6 488.6 209.3 488.9 209.0 488.7 208.7 488.9 208.4 488.7 208.1 488.9 207.8 488.7 207.5 488.9 207.2 488.7 206.9 488.9 206.6 488.7 206.3 489.0 206.0 488.7 205.7 489.0 205.4 488.8 205.1 489.0 204.8 488.7 204.5 489.0 204.2 488.8 203.9 489.1 203.6 488.7 203.3 489.1 203.0 488.8 202.7 489.0 202.4 488.9 202.1 489.1 201.8 488.8 201.5 489.1 201.2 488.9 200.9 489.1 200.6 488.9 200.3 489.1 200.0 488.9 200.0 489.1 199.7 488.9 199.4 489.1 199.1 488.9 198.8 489.1 198.5 489.0 198.2 489.1 197.9 488.9 197.6 489.1 197.3 488.9 197.0 489.1 196.7 488.9 196.4 489.2 196.1 489.0 195.8 489.2 195.5 489.0 195.2 489.2 194.9 489.0 194.6 489.1 194.3 489.0 194.0 489.2 193.7 489.0 193.4 489.1 193.1 489.0 192.8 489.2 192.5 489.0 192.2 489.2 191.9 489.0 191.6 489.2 191.3 489.0 191.0 489.2 190.7 489.0 190.4 489.2 190.1 489.0 189.8 489.2 189.5 489.0 189.2 489.2 188.9 489.0 188.6 489.3 188.3 489.1 188.0 489.3 187.7 489.0 187.4 489.3 187.1 489.1 186.8 489.3 186.5 489.1 186.2 489.3 185.9 489.1 185.6 489.3 185.3 489.1 185.0 489.3 184.7 489.1 184.4 489.3 184.1 489.1 183.8 489.3 183.5 489.1 183.2 489.3 182.9 489.1 182.6 489.4 182.3 489.2 182.0 489.3 181.7 489.2 181.4 489.4 181.1 489.1 180.8 489.3 180.5 489.2 180.2 489.3 179.9 489.2 179.6 489.4 179.3 489.2 179.0 489.4 178.7 489.2 178.4 489.4 178.1 489.2 177.8 489.4 177.5 489.2 177.2 489.4 176.9 489.3 176.6 489.4 176.3 489.3 176.0 489.4 175.7 489.2 175.4 489.4 175.1 489.3 174.8 489.5 174.5 489.2 174.2 489.4 173.9 489.3 173.6 489.5 173.3 489.3 173.0 489.4 172.7 489.3 172.4 489.5 172.1 489.3 171.8 489.5 171.5 489.3 171.2 489.5 170.9 489.3 170.6 489.5 170.3 489.3 170.0 489.5 170.0 489.3 169.7 489.5 169.4 489.3 169.1 489.5 168.8 489.3 168.5 489.5 168.2 489.3 167.9 489.5 167.6 489.3 167.3 489.5 167.0 489.4 166.7 489.5 166.4 489.4 166.1 489.5 165.8 489.4 165.5 489.5 165.2 489.3 164.9 489.5 164.6 489.3 164.3 489.5 164.0 489.4 163.7 489.6 163.4 489.4 163.1 489.5 162.8 489.4 162.5 489.6 162.2 489.4 161.9 489.6 161.6 489.4 161.3 489.6 161.0 489.4 160.7 489.6 160.4 489.4 160.1 489.6 159.8 489.5 159.5 489.6 159.2 489.4 158.9 489.6 158.6 489.5 158.3 489.6 158.0 489.5 157.7 489.6 157.4 489.5 157.1 489.6 156.8 489.4 156.5 489.6 156.2 489.5 155.9 489.6 155.6 489.5 155.3 489.6 155.0 489.5 154.7 489.7 154.4 489.5 154.1 489.6 153.8 489.5 153.5 489.7 153.2 489.5 152.9 489.7 152.6 489.5 152.3 489.6 152.0 489.5 151.7 489.7 151.4 489.5 151.1 489.7 150.8 489.5 150.5 489.7 150.2 489.5 149.9 489.7 149.6 489.5 149.3 489.7 149.0 489.6 148.7 489.8 148.4 489.6 148.1 489.8 147.8 489.6 147.5 489.7 147.2 489.6 146.9 489.8 146.6 489.6 146.3 489.8 146.0 489.6 145.7 489.7 145.4 489.6 145.1 489.8 144.8 489.6 144.5 489.8 144.2 489.6 143.9 489.8 143.6 489.6 143.3 489.8 143.0 489.6 142.7 489.8 142.4 489.6 142.1 489.8 141.8 489.6 141.5 489.8 141.2 489.6 140.9 489.8 140.6 489.6 140.3 489.8 140.0 489.7 139.7 489.8 139.4 489.7 139.1 489.9 138.8 489.7 138.5 489.8 138.2 489.7 137.9 489.8 137.6 489.6 137.3 489.9 137.0 489.7 136.7 489.8 136.4 489.7 136.1 489.9 135.8 489.7 135.5 489.9 135.2 489.7 134.9 489.9 134.6 489.7 134.3 489.8 134.0 489.7 133.7 489.9 133.4 489.7 133.1 489.9 132.8 489.7 132.5 489.9 132.2 489.7 131.9 489.9 131.6 489.7 131.3 489.9 131.0 489.7 130.7 489.9 130.4 489.8 130.1 489.9 129.8 489.8 129.5 489.9 129.2 489.7 128.9 489.9 128.6 489.8 128.3 490.0 128.0 489.7 127.7 490.0 127.4 489.8 127.1 490.0 126.8 489.8 126.5 490.0 126.2 489.8 125.9 489.9 125.6 489.8 125.3 490.0 125.0 489.8 124.7 490.0 124.4 489.8 124.1 490.0 123.8 489.8 123.5 490.0 123.2 489.8 122.9 490.0 122.6 489.9 122.3 490.0 122.0 489.8 121.7 490.0 121.4 489.8 121.1 490.0 120.8 489.9 120.5 490.0 120.2 489.8 119.9 490.1 119.6 489.8 119.3 490.0 119.0 489.9 118.7 490.1 118.4 489.9 118.1 490.1 117.8 489.9 117.5 490.1 117.2 489.9 116.9 490.0 116.6 489.9 116.3 490.1 116.0 489.9 115.7 490.1 115.4 489.9 115.1 490.2 115.0 489.9 114.8 490.1 114.5 489.9 114.2 490.2 113.9 489.9 113.6 490.2 113.3 489.9 113.0 490.2 112.7 490.0 112.4 490.2 112.1 490.0 111.8 490.3 111.5 490.0 111.2 490.2 110.9 489.9 110.6 490.3 110.3 490.0 110.0 490.3 109.7 490.0 109.4 490.3 109.1 490.0 108.8 490.3 108.5 490.0 108.2 490.4 107.9 490.0 107.6 490.3 107.3 490.0 107.0 490.4 106.7 490.1 106.4 490.4 106.1 490.1 105.8 490.4 105.5 490.1 105.2 490.4 104.9 490.1 104.6 490.4 104.3 490.1 104.0 490.4 103.7 490.1 103.4 490.4 103.1 490.2 102.8 490.4 102.5 490.2 102.2 490.4 101.9 490.2 101.6 490.5 101.3 490.2 101.0 490.5 100.7 490.3 100.4 490.5 100.1 490.3 99.8 490.6 99.5 490.3 99.2 490.5 98.9 490.3 98.6 490.5 98.3 490.3 98.0 490.6 97.7 490.3 97.4 490.5 97.1 490.4 96.8 490.6 96.5 490.4 96.2 490.6 95.9 490.4 95.6 490.7 95.3 490.3 95.0 490.7 94.7 490.4 94.4 490.7 94.1 490.5 93.8 490.7 93.5 490.4 93.2 490.7 92.9 490.4 92.6 490.7 92.3 490.5 92.0 490.7 91.7 490.4 91.4 490.7 91.3 490.4 91.1 490.8 90.8 490.4 90.5 490.9 90.2 490.5 89.9 490.9 89.6 490.6 89.3 490.9 89.0 490.6 88.6 490.9 88.4 490.5 88.1 491.0 87.8 490.7 87.5 491.0 87.2 490.6 86.9 491.0 86.6 490.6 86.3 491.1 86.0 490.7 85.7 491.1 85.4 490.7 85.1 491.1 84.8 490.7 84.5 491.2 84.2 490.8 83.9 491.1 83.6 490.9 83.3 491.2 83.0 490.8 82.7 491.2 82.4 490.9 82.1 491.2 81.8 491.0 81.5 491.4 81.2 490.9 80.9 491.3 80.6 491.0 80.3 491.4 80.0 491.0 79.7 491.4 79.4 491.1 79.1 491.5 78.8 491.2 78.5 491.5 78.2 491.1 77.9 491.6 77.6 491.1 77.3 491.6 77.0 491.2 76.7 491.6 76.4 491.2 76.1 491.6 75.8 491.2 75.5 491.6 75.2 491.2 74.9 491.7 74.6 491.3 74.3 491.8 74.0 491.3 73.7 491.8 73.4 491.4 73.1 491.8 72.8 491.3 72.4 492.0 72.5 491.2 72.0 492.3 72.0 491.4 71.5 492.1 71.3 491.5 71.0 492.5 70.9 491.6 70.4 492.7 70.4 491.8 69.8 492.8 69.8 491.9 69.2 493.0 69.1 492.8 68.7 492.2 68.8 492.9 69.0 492.2 69.5 493.1 69.7 492.3 70.1 493.0 70.3 492.5 70.7 493.0 70.9 492.6 71.2 493.3 71.4 492.5 71.8 493.4 72.0 492.7 72.4 493.4 72.6 493.0 73.0 493.5 73.2 492.9 73.7 493.7 73.8 492.9 74.2 493.7 74.4 493.1 74.8 493.9 75.0 493.1 75.0 493.7 75.3 493.2 75.7 494.0 75.9 493.3 76.3 493.9 76.5 493.3 76.9 494.1 77.1 493.6 77.4 494.2 77.6 493.7 78.0 494.1 78.3 493.6 78.7 494.4 78.9 493.7 79.3 494.3 79.5 493.9 79.8 494.4 80.0 494.0 80.4 494.4 80.6 494.0 81.0 494.7 81.2 494.1 81.6 494.7 81.8 494.2 82.1 494.9 82.3 494.2 82.7 494.8 83.0 494.3 83.3 494.9 83.5 494.3 83.9 495.1 84.1 495.0 84.5 494.4 84.2 495.0 84.0 494.5 83.6 495.4 83.5 494.7 83.0 495.4 82.9 494.8 82.5 495.4 82.2 494.8 81.8 495.7 81.6 495.0 81.2 495.6 81.1 495.1 80.6 495.9 80.5 495.1 80.0 495.9 79.8 495.5 79.4 495.9 79.2 495.5 78.9 496.2 78.7 495.6 78.3 496.3 78.1 495.8 77.8 496.3 77.6 495.7 77.2 496.5 77.0 496.0 76.5 496.5 76.3 496.6 76.1 496.0 76.6 496.9 76.4 496.0 77.1 497.0 77.1 496.4 77.7 497.4 77.7 496.4 78.3 497.7 78.1 496.9 78.6 497.8 78.5 496.9 79.3 498.0 79.2 497.1 79.9 497.9 79.9 497.5 80.1 498.1 80.3 497.5 80.7 498.0 80.9 497.6 81.3 498.2 81.5 497.6 81.8 498.3 82.1 497.7 82.4 498.3 82.7 497.7 83.1 498.4 83.3 497.8 83.7 498.4 83.9 498.0 84.2 498.5 84.5 498.0 84.9 498.7 85.1 498.1 85.5 498.7 85.7 498.1 86.1 498.8 86.3 498.2 86.6 498.9 86.9 498.4 87.2 498.9 87.4 498.4 87.8 498.9 88.1 498.5 88.4 499.0 88.7 498.4 88.8 499.1 89.0 498.6 89.4 499.1 89.7 498.7 90.0 499.2 90.2 498.6 90.6 499.1 90.9 498.7 91.2 499.3 91.4 498.8 91.8 499.3 92.0 498.8 92.4 499.4 92.6 499.0 92.9 499.4 93.2 498.9 93.6 499.5 93.8 499.0 94.1 499.6 94.4 499.1 94.8 499.5 95.0 499.1 95.4 499.6 95.6 499.1 96.0 499.7 96.2 499.3 96.5 499.7 96.8 499.2 97.1 499.7 97.4 499.3 97.7 499.9 98.0 499.4 98.3 499.9 98.6 499.4 98.9 499.9 99.1 499.4 99.5 500.0 99.7 499.5 100.1 500.0 100.3 499.6 100.7 500.0 101.0 499.6 101.3 500.1 101.6 499.7 101.9 500.3 102.1 499.8 102.5 500.3 102.4 499.8 102.8 500.4 103.0 499.7 103.4 500.3 103.6 499.8 104.0 500.5 104.2 500.0 104.6 500.5 104.9 500.1 105.2 500.5 105.5 500.1 105.8 500.6 106.1 500.1 106.4 500.6 106.7 500.2 107.0 500.8 107.3 500.3 107.6 500.8 107.9 500.4 108.2 500.9 108.5 500.3 108.8 501.0 109.1 500.5 109.4 501.0 109.7 500.5 110.0 501.0 110.3 500.6 110.7 501.2 110.9 500.7 111.2 501.2 111.4 500.8 111.8 501.3 112.0 500.7 112.4 501.3 112.5 500.8 112.6 501.2 112.9 500.8 113.2 501.3 113.5 500.9 113.8 501.4 114.1 500.9 114.4 501.5 114.7 501.0 115.0 501.4 115.3 501.1 115.6 501.4 115.9 501.0 116.3 501.6 116.5 501.1 116.9 501.5 117.1 501.2 117.4 501.6 117.7 501.2 118.1 501.6 118.3 501.2 118.7 501.7 118.9 501.2 119.2 501.8 119.5 501.4 119.8 501.8 120.1 501.3 120.4 501.9 120.7 501.4 121.0 502.0 121.3 501.5 121.6 501.9 121.9 501.5 122.2 501.9 122.5 501.6 122.8 502.1 123.1 501.7 123.4 502.0 123.7 501.6 124.0 502.2 124.3 501.7 124.6 502.1 124.9 501.8 125.2 502.1 125.5 501.7 125.8 502.2 126.1 501.8 126.4 502.3 126.7 502.0 127.0 502.4 127.3 502.0 127.6 502.4 127.9 502.1 128.2 502.5 128.5 502.0 128.8 502.5 129.1 502.0 129.4 502.6 129.7 502.2 130.0 502.5 130.3 502.1 130.6 502.6 130.9 502.1 131.2 502.7 131.5 502.2 131.8 502.6 132.1 502.3 132.4 502.8 132.6 502.3 133.0 502.9 133.2 502.3 133.6 502.9 133.8 502.5 134.2 503.0 134.4 502.5 134.8 502.9 135.1 502.5 135.4 503.0 135.7 502.6 136.0 503.0 136.2 502.6 136.6 503.0 136.9 502.6 137.2 503.2 137.4 502.7 137.8 503.3 138.0 502.8 138.4 503.2 138.6 502.7 139.0 503.2 139.2 502.9 139.5 503.2 139.8 502.9 140.0 503.3 140.1 502.9 140.5 503.3 140.8 503.0 141.1 503.5 141.4 503.0 141.7 503.5 141.9 503.1 142.2 503.6 142.5 503.2 142.8 503.6 143.1 503.2 143.4 503.7 143.7 503.2 144.1 503.8 144.3 503.2 144.7 503.8 144.9 503.3 145.3 503.8 145.5 503.3 145.9 503.9 146.1 503.4 146.5 504.0 146.7 503.5 147.1 504.0 147.4 503.5 147.7 504.0 147.9 503.5 148.3 504.0 148.6 503.7 148.9 504.2 149.1 503.6 149.4 504.2 149.7 503.7 150.0 504.2 150.3 503.7 150.6 504.2 150.8 503.8 151.2 504.4 151.5 503.9 151.8 504.4 152.1 503.9 152.4 504.5 152.7 504.0 153.0 504.5 153.2 504.0 153.6 504.5 153.8 504.0 154.2 504.6 154.4 504.1 154.7 504.6 155.0 504.3 155.4 504.7 155.7 504.2 156.0 504.6 156.3 504.2 156.6 504.7 156.9 504.3 157.2 504.7 157.5 504.4 157.8 504.9 158.0 504.4 158.4 505.0 158.7 504.4 159.0 505.0 159.3 504.6 159.6 505.1 159.9 504.5 160.2 505.0 160.5 504.7 160.8 505.2 161.0 504.6 161.4 505.1 161.7 504.8 162.0 505.2 162.2 504.6 162.5 505.2 162.5 504.7 162.9 505.3 163.2 504.8 163.5 505.4 163.7 504.9 164.1 505.4 164.3 504.9 164.7 505.7 164.9 505.0 165.3 505.6 165.5 505.1 165.9 505.6 166.1 505.3 166.5 505.8 166.7 505.2 167.1 505.9 167.3 505.5 167.6 506.0 167.9 505.4 168.2 505.9 168.5 505.4 168.9 506.2 169.1 505.6 169.5 506.2 169.7 505.5 170.1 506.3 170.3 505.7 170.7 506.3 170.9 505.8 171.2 506.4 171.5 505.9 171.8 506.4 172.1 505.9 172.5 506.6 172.7 505.9 173.0 506.6 173.3 506.0 173.6 506.7 173.9 506.1 174.2 506.7 174.5 506.3 174.8 506.8 174.9 506.2 175.1 506.8 175.4 506.3 175.7 506.8 176.0 506.4 176.3 507.0 176.5 506.6 176.9 507.2 177.1 506.7 177.5 507.3 177.7 506.7 178.0 507.3 178.2 506.7 178.6 507.5 178.8 506.8 179.3 507.7 179.4 507.0 179.9 507.6 180.1 507.0 180.4 507.6 180.6 507.1 181.1 507.7 181.3 507.3 181.6 508.0 181.8 507.3 182.2 508.0 182.3 507.3 182.7 508.0 183.0 507.6 183.4 508.2 183.5 507.6 183.9 508.3 184.1 507.8 184.5 508.5 184.7 507.8 184.9 508.4 185.0 507.9 185.5 508.7 185.6 508.1 186.0 508.9 186.2 508.1 186.6 508.8 186.8 508.2 187.3 509.0 187.4 508.4 187.8 509.2 188.0 508.4 188.5 509.3 188.5 508.4 189.0 509.4 189.1 508.8 189.5 509.4 189.7 508.8 190.2 509.5 190.3 508.9 190.8 509.7 191.0 509.0 191.4 509.8 191.5 509.1 191.9 510.0 192.1 509.5 192.5 510.2 192.7 509.5 193.2 510.2 193.3 509.7 193.7 510.3 193.9 509.6 194.3 510.4 194.5 509.6 195.0 510.4 195.1 509.8 195.6 510.7 195.7 510.1 196.2 510.7 196.2 510.2 196.4 511.0 196.5 510.3 197.1 511.3 197.2 510.5 197.7 511.4 197.7 510.6 198.2 511.2 198.2 510.6 198.8 511.7 198.7 511.0 199.2 511.8 199.2 511.2 199.7 511.8 199.8 511.2 200.3 512.2 200.4 511.5 200.9 512.3 200.9 511.4 201.5 512.4 201.6 512.6 201.8 511.8 201.2 512.5 201.3 511.9 200.7 512.9 200.9 512.1 200.3 513.1 200.5 512.4 199.9 513.5 200.0 512.6 199.3 513.7 199.3 512.8 198.6 514.0 198.8 513.0 198.2 514.3 198.3 513.2 197.6 514.3 197.7 513.8 197.4 514.2 197.3 513.8 197.0 514.5 196.8 513.9 196.4 514.5 196.2 514.0 195.8 514.6 195.6 514.2 195.2 514.9 195.0 514.2 194.6 514.8 194.4 514.3 194.0 515.0 193.8 514.5 193.4 515.1 193.2 514.4 192.8 515.1 192.6 514.6 192.2 515.4 192.1 514.6 191.7 515.4 191.4 515.0 191.0 515.6 190.9 514.8 190.4 515.7 190.3 515.1 189.9 515.8 189.7 515.0 189.2 515.9 189.0 515.1 188.6 516.0 188.4 515.5 188.1 516.0 187.9 515.3 187.4 516.3 187.3 515.4 186.9 516.2 186.8 515.7 186.4 516.2 186.3 515.9 186.1 516.3 185.8 515.8 185.5 516.3 185.2 515.9 184.9 516.3 184.6 515.9 184.3 516.3 184.0 516.0 183.7 516.4 183.4 516.0 183.1 516.5 182.8 516.0 182.5 516.5 182.2 516.1 181.9 516.4 181.6 516.1 181.3 516.5 181.0 516.2 180.7 516.7 180.4 516.2 180.0 516.6 179.8 516.2 179.4 516.8 179.2 516.2 178.8 516.7 178.6 516.3 178.3 516.8 178.0 516.3 177.7 516.8 177.4 516.4 177.1 516.8 176.8 516.4 176.5 516.9 176.2 516.5 175.9 517.0 175.6 516.6 175.3 516.9 175.0 516.6 174.7 517.0 174.5 516.7 174.2 517.0 173.9 516.7 173.5 517.0 173.2 516.6 172.9 517.1 172.7 516.7 172.3 517.2 172.1 516.7 171.7 517.2 171.5 516.8 171.1 517.2 170.9 516.8 170.5 517.3 170.3 516.9 170.0 517.2 169.9 517.0 169.6 517.3 169.4 517.0 169.0 517.3 168.8 516.9 168.4 517.4 168.1 517.1 167.8 517.3 167.5 517.0 167.2 517.4 166.9 517.1 166.6 517.4 166.3 517.1 166.0 517.4 165.7 517.1 165.4 517.4 165.1 517.1 164.8 517.5 164.5 517.2 164.2 517.5 163.9 517.2 163.6 517.4 163.3 517.2 163.0 517.5 162.7 517.2 162.4 517.4 162.1 517.2 161.8 517.5 161.5 517.2 161.2 517.5 160.9 517.2 160.6 517.6 160.3 517.3 160.0 517.6 159.7 517.3 159.4 517.7 159.1 517.3 158.8 517.7 158.5 517.3 158.2 517.7 157.9 517.4 157.6 517.7 157.3 517.5 157.0 517.7 156.7 517.4 156.4 517.7 156.1 517.5 155.8 517.7 155.5 517.4 155.2 517.7 154.9 517.4 154.6 517.8 154.3 517.5 154.0 517.8 153.7 517.5 153.4 517.8 153.1 517.5 152.8 517.8 152.5 517.6 152.2 517.8 151.9 517.5 151.6 517.9 151.4 517.6 151.0 517.9 150.8 517.6 150.5 517.9 150.2 517.6 149.8 517.9 149.6 517.6 149.3 518.0 149.0 517.7 148.7 518.0 148.4 517.6 148.1 518.0 147.8 517.7 147.4 518.0 147.1 517.7 146.8 518.1 146.6 517.8 146.2 518.0 146.0 517.8 145.7 518.1 145.4 517.7 145.1 518.1 144.8 517.8 144.5 518.2 144.2 517.8 143.9 518.1 143.6 517.9 143.2 518.1 142.9 517.8 142.6 518.2 142.3 517.9 142.0 518.2 141.7 517.9 141.4 518.1 141.1 518.0 140.8 518.2 140.5 517.9 140.2 518.3 140.0 517.9 139.9 518.3 139.6 518.0 139.3 518.3 139.0 518.0 138.7 518.4 138.5 518.0 138.1 518.4 137.8 518.0 137.5 518.4 137.2 518.2 136.9 518.5 136.6 518.1 136.3 518.6 136.0 518.2 135.7 518.6 135.5 518.1 135.1 518.6 134.9 518.1 134.5 518.6 134.3 518.3 134.0 518.7 133.7 518.3 133.4 518.7 133.1 518.2 132.8 518.7 132.5 518.3 132.1 518.8 131.9 518.4 131.5 518.7 131.3 518.4 130.9 518.8 130.7 518.4 130.3 518.9 130.1 518.5 129.8 518.9 129.5 518.5 129.2 518.8 128.9 518.5 128.6 518.9 128.3 518.6 128.0 519.0 127.7 518.6 127.4 518.9 127.1 518.6 126.8 519.0 126.5 518.6 126.2 519.1 125.9 518.7 125.6 519.0 125.3 518.7 125.0 519.0 124.7 518.7 124.4 519.2 124.1 518.7 123.8 519.1 123.5 518.7 123.2 519.2 122.9 518.9 122.6 519.1 122.3 518.8 122.0 519.2 121.7 518.9 121.4 519.3 121.1 518.9 120.8 519.4 120.5 519.0 120.2 519.4 119.9 519.0 119.6 519.3 119.3 519.0 119.0 519.4 118.7 519.0 118.4 519.4 118.1 519.0 117.8 519.4 117.5 519.1 117.2 519.5 116.9 519.1 116.6 519.4 116.3 519.2 116.0 519.6 115.7 519.2 115.4 519.6 115.1 519.3 115.0 519.5 114.8 519.2 114.5 519.5 114.2 519.3 113.9 519.6 113.6 519.3 113.3 519.7 113.0 519.4 112.7 519.6 112.4 519.3 112.1 519.7 111.8 519.4 111.5 519.7 111.2 519.4 110.9 519.8 110.6 519.4 110.3 519.8 110.0 519.4 109.7 519.8 109.4 519.5 109.1 519.8 108.8 519.5 108.5 519.8 108.2 519.6 107.9 519.9 107.6 519.5 107.3 519.9 107.0 519.6 106.6 520.0 106.4 519.6 106.1 519.9 105.8 519.7 105.5 520.0 105.2 519.6 104.9 520.0 104.6 519.6 104.3 520.0 104.0 519.7 103.7 520.0 103.4 519.7 103.1 520.1 102.8 519.7 102.5 520.2 102.2 519.8 101.9 520.1 101.6 519.8 101.3 520.2 101.0 519.8 100.7 520.2 100.4 520.0 100.1 520.3 99.8 519.9 99.5 520.2 99.2 520.0 98.9 520.3 98.6 519.9 98.3 520.3 98.0 519.9 97.7 520.4 97.4 519.9 97.1 520.3 96.8 520.1 96.5 520.4 96.2 520.0 95.9 520.4 95.6 520.1 95.3 520.5 95.0 519.9 94.9 520.6 94.7 520.1 94.4 520.6 94.1 520.0 93.8 520.7 93.5 520.2 93.2 520.7 92.9 520.2 92.6 520.8 92.4 520.4 92.0 521.0 91.8 520.4 91.4 520.9 91.2 520.4 90.8 521.1 90.6 520.6 90.2 521.0 90.0 520.5 89.6 521.2 89.4 520.6 89.0 521.2 88.8 520.8 88.4 521.2 88.1 520.8 87.7 521.4 87.5 520.8 87.1 521.4 86.9 520.9 86.6 521.6 86.3 521.7 86.1 520.9 86.4 521.8 86.6 521.0 87.0 521.9 87.2 521.2 87.7 522.0 87.9 521.3 88.3 521.9 88.4 521.3 88.9 522.1 89.1 521.5 89.6 522.4 89.7 521.6 90.2 522.4 90.4 521.6 90.8 522.5 90.9 521.9 91.4 522.7 91.5 521.9 92.0 522.7 92.1 522.3 92.4 522.8 92.5 522.2 92.7 522.8 92.9 522.2 93.3 523.0 93.5 522.4 93.9 522.9 94.1 522.4 94.4 523.0 94.7 522.5 95.0 523.0 95.3 522.5 95.6 523.1 95.9 522.6 96.3 523.3 96.5 522.7 96.9 523.2 97.1 522.9 97.4 523.3 97.7 522.8 98.1 523.4 98.3 522.8 98.6 523.4 98.9 522.9 99.2 523.6 99.4 523.2 99.8 523.5 100.0 523.0 100.4 523.7 100.6 523.2 101.0 523.8 101.2 523.2 101.6 523.9 101.8 523.4 102.1 523.9 102.4 523.5 102.7 524.0 103.0 523.4 103.3 524.0 103.6 523.5 103.7 524.1 103.9 523.6 104.3 524.0 104.6 523.6 104.9 524.2 105.2 523.6 105.5 524.2 105.7 523.8 106.1 524.3 106.3 523.8 106.7 524.3 107.0 523.9 107.3 524.4 107.5 524.0 107.9 524.3 108.1 523.9 108.4 524.4 108.7 524.0 109.0 524.5 109.3 524.0 109.6 524.6 109.9 524.1 110.2 524.6 110.5 524.1 110.8 524.6 111.1 524.2 111.4 524.6 111.7 524.2 112.0 524.8 112.3 524.3 112.6 524.8 112.9 524.3 113.2 525.0 113.5 524.4 113.9 525.0 114.1 524.4 114.5 524.9 114.8 524.5 115.1 525.0 115.3 524.7 115.6 525.2 115.9 524.6 116.3 525.3 116.5 524.7 116.8 525.2 117.1 524.7 117.4 525.2 117.7 524.8 118.1 525.4 118.3 524.8 118.6 525.5 118.8 525.0 119.2 525.5 119.5 525.0 119.8 525.5 120.0 524.9 120.2 525.5 120.4 525.0 120.7 525.5 121.0 525.2 121.3 525.7 121.5 525.1 121.9 525.7 122.1 525.2 122.5 525.7 122.8 525.4 123.1 525.9 123.4 525.3 123.7 525.8 124.0 525.4 124.4 525.9 124.6 525.4 124.9 526.0 125.2 525.5 125.5 525.9 125.8 525.6 126.1 526.0 126.3 525.6 126.6 526.1 126.9 525.6 127.2 526.2 127.5 525.7 127.8 526.2 128.1 525.7 128.4 526.3 128.7 525.8 129.0 526.4 129.3 525.8 129.6 526.4 129.9 525.9 130.2 526.4 130.5 526.0 130.8 526.5 131.1 525.9 131.3 526.6 131.4 526.0 131.8 526.6 132.0 526.0 132.4 526.7 132.6 526.1 133.0 526.7 133.2 526.3 133.6 526.9 133.8 526.4 134.1 526.8 134.4 526.3 134.7 527.0 134.9 526.5 135.3 526.9 135.6 526.5 135.9 527.1 136.1 526.5 136.5 527.1 136.7 526.7 137.1 527.3 137.3 526.6 137.7 527.3 137.9 526.9 138.3 527.3 138.5 526.9 138.8 527.4 139.1 527.0 139.5 527.4 139.7 526.9 140.1 527.6 140.3 527.2 140.7 527.7 140.9 527.2 141.3 527.7 141.5 527.2 141.9 527.8 142.1 527.2 142.5 527.8 142.7 527.4 143.1 527.8 143.3 527.4 143.7 527.9 143.9 527.5 144.3 528.0 144.5 527.4 144.9 528.2 145.2 527.6 145.5 528.2 145.7 527.6 146.1 528.3 146.3 527.6 146.7 528.3 147.0 527.9 147.3 528.3 147.5 527.9 147.6 528.5 147.8 527.9 148.1 528.4 148.3 527.9 148.7 528.6 148.9 528.1 149.3 528.6 149.5 528.1 149.8 528.8 150.1 528.2 150.5 528.9 150.8 528.2 151.2 528.9 151.4 528.3 151.7 529.0 152.0 528.5 152.3 529.1 152.6 528.4 152.9 529.1 153.1 528.5 153.5 529.1 153.7 528.8 154.1 529.2 154.4 528.6 154.8 529.2 155.0 528.8 155.3 529.5 155.5 528.8 155.9 529.6 156.1 528.9 156.6 529.4 156.8 529.0 157.1 529.7 157.4 529.1 157.7 529.6 158.0 529.1 158.3 529.9 158.5 529.2 158.9 529.8 159.2 529.3 159.5 529.8 159.8 529.5 160.1 529.9 160.3 529.5 160.6 530.2 160.9 529.5 161.3 530.2 161.5 529.6 161.9 530.2 162.1 529.8 162.4 530.3 162.4 529.6 162.8 530.4 162.9 529.9 163.3 530.4 163.5 529.9 163.9 530.5 164.1 530.1 164.5 530.7 164.7 530.0 165.1 530.7 165.3 530.2 165.8 530.9 165.9 530.3 166.4 531.0 166.6 530.3 167.0 531.1 167.2 530.6 167.5 531.2 167.8 530.7 168.2 531.2 168.4 530.8 168.7 531.3 169.0 530.7 169.3 531.3 169.5 531.0 169.9 531.5 170.2 530.9 170.6 531.6 170.8 531.0 171.2 531.8 171.3 531.2 171.7 531.9 171.8 531.1 172.1 531.9 172.2 531.3 172.6 532.2 172.7 531.3 173.3 532.2 173.2 531.5 173.8 532.4 173.9 531.8 174.3 532.3 174.4 531.7 174.9 532.7 175.0 531.8 175.5 532.8 175.6 532.0 176.1 533.0 175.9 532.1 176.7 533.2 176.0 532.3 177.4 533.8 176.4 532.7 177.8 534.1 177.1 533.3 178.2 534.2 177.7 533.5 178.9 534.7 178.1 534.1 179.1 535.4 178.0 534.6 179.0 534.4 178.3 535.5 178.8 534.7 177.9 536.1 178.4 535.2 177.6 536.3 178.1 535.5 177.2 536.7 177.8 535.7 176.7 537.0 177.2 536.2 176.1 537.3 176.5 536.7 176.2 537.2 176.1 536.7 175.7 537.3 175.5 536.7 175.2 537.4 174.9 536.8 174.6 537.3 174.4 536.9 174.0 537.4 173.7 537.0 173.4 537.4 173.1 537.0 172.8 536.8 172.6 537.6 172.5 537.0 172.9 537.8 173.1 537.0 173.5 537.7 173.7 537.3 174.1 538.0 174.3 537.2 174.7 538.1 174.9 537.3 175.3 538.1 175.5 537.7 175.9 538.3 176.0 537.8 176.4 538.5 176.6 537.7 177.0 538.5 177.1 537.9 177.5 538.6 177.7 538.1 178.1 538.7 178.3 538.1 178.7 539.0 178.8 538.3 179.3 538.9 179.5 538.3 180.0 539.1 180.0 538.3 180.3 539.3 180.5 538.6 181.0 539.3 181.1 538.7 181.5 539.3 181.7 538.9 182.1 539.6 182.2 538.8 182.6 539.6 182.8 539.1 183.2 539.7 183.4 539.0 183.9 539.8 184.0 539.3 184.4 539.9 184.6 539.4 185.0 540.2 185.1 539.5 185.6 540.4 185.7 539.7 186.1 540.6 186.3 539.7 186.8 540.5 186.9 539.9 187.3 540.5 187.5 539.9 187.9 540.9 188.1 540.1 188.5 540.9 188.6 540.1 188.9 541.0 188.8 540.5 189.3 541.3 189.4 540.5 190.0 541.5 190.0 540.6 190.5 541.4 190.6 540.7 191.1 541.8 191.2 541.0 191.7 541.7 191.8 541.1 192.3 542.0 192.3 541.1 192.9 542.1 192.9 541.3 193.4 542.3 193.5 541.7 194.0 542.5 194.1 541.6 194.6 542.6 194.7 541.7 195.2 542.8 195.2 542.1 195.6 542.9 195.8 542.2 196.2 542.9 196.0 542.0 196.6 543.2 196.5 542.4 197.2 543.3 197.2 542.6 197.9 543.5 197.8 542.8 198.4 544.0 198.3 543.1 198.9 544.1 198.7 543.1 199.5 544.3 199.3 543.6 199.9 544.5 199.8 543.7 200.5 544.9 200.3 544.1 201.0 544.8 201.1 544.0 201.6 544.9 201.5 544.4 202.1 545.5 202.0 544.7 202.5 545.4 202.4 544.8 202.9 545.7 203.0 544.9 203.6 546.0 203.6 545.3 204.1 546.0 204.2 545.2 204.7 546.4 204.6 545.6 205.2 546.3 205.3 545.8 205.8 546.8 205.8 546.0 206.3 546.8 206.2 546.2 206.8 547.1 206.8 546.2 207.3 547.2 207.4 546.5 208.0 547.6 208.0 546.7 208.7 547.7 208.6 546.8 209.3 547.9 209.1 547.1 209.8 548.2 209.7 547.4 210.4 548.2 210.5 547.3 211.1 548.4 211.0 547.8 211.3 548.5 211.3 547.7 211.9 548.7 211.9 548.0 212.4 549.1 212.2 548.4 212.8 549.2 212.8 548.4 213.5 549.4 213.3 548.7 213.9 549.7 213.8 548.8 214.5 549.9 214.4 549.2 215.0 549.9 215.1 549.4 215.7 550.4 215.6 549.4 216.3 550.6 216.1 549.9 216.7 550.8 216.7 550.1 217.3 550.9 217.3 550.3 217.9 551.4 217.8 550.4 218.5 551.2 218.5 550.5 219.1 551.6 219.0 550.9 219.5 551.9 219.1 550.9 219.9 552.1 219.7 551.2 220.4 552.2 220.3 551.7 221.0 552.6 220.8 551.7 221.7 552.8 221.6 551.9 222.4 553.0 222.3 552.0 223.0 553.3 222.7 552.3 223.7 553.4 223.4 552.6 224.1 553.9 223.7 552.8 224.5 553.9 224.3" fill="none" stroke="#1f77b4" stroke-width="2.08" stroke-linejoin="round" stroke-linecap="square"/>
<path d="M80.5 58.5H576.5V384.5H80.5ZM85.5 384.5V389.5M137.5 384.5V389.5M188.5 384.5V389.5M240.5 384.5V389.5M291.5 384.5V389.5M343.5 384.5V389.5M395.5 384.5V389.5M446.5 384.5V389.5M485.5 384.5V389.5M536.5 384.5V389.5M75.5 384.5H80.5M75.5 331.5H80.5M75.5 277.5H80.5M75.5 224.5H80.5M75.5 170.5H80.5M75.5 117.5H80.5M75.5 64.5H80.5" fill="none" stroke="#000" stroke-width="1.111"/>
<g fill="#000" fill-opacity=".055" shape-rendering="crispEdges">
<rect x="80" y="57" width="497" height="1"/><rect x="81" y="59" width="495" height="1"/><rect x="81" y="383" width="495" height="1"/><rect x="80" y="385" width="497" height="1"/>
<rect x="76" y="383" width="4" height="1"/><rect x="76" y="385" width="4" height="1"/>
<rect x="76" y="330" width="4" height="1"/><rect x="76" y="332" width="4" height="1"/>
<rect x="76" y="276" width="4" height="1"/><rect x="76" y="278" width="4" height="1"/>
<rect x="76" y="223" width="4" height="1"/><rect x="76" y="225" width="4" height="1"/>
<rect x="76" y="169" width="4" height="1"/><rect x="76" y="171" width="4" height="1"/>
<rect x="76" y="116" width="4" height="1"/><rect x="76" y="118" width="4" height="1"/>
<rect x="76" y="63" width="4" height="1"/><rect x="76" y="65" width="4" height="1"/>
</g>
<text class="t" x="-80.75 -72 -63.25 -54.5 -46.125 -41.125 -32.125 -23.625 -18.625 -9.625" transform="translate(83.55,403.25) rotate(-30)">2025-08-01</text>
<text class="t" x="-80.25 -71.875 -62.875 -54.25 -45.625 -40.5 -31.75 -23.125 -18 -9.125" transform="translate(135.13,403.25) rotate(-30)">2025-08-05</text>
<text class="t" x="-80.75 -72 -63.5 -54.5 -46.125 -41.125 -32.125 -23.625 -18.625 -9.625" transform="translate(186.71,403.25) rotate(-30)">2025-08-09</text>
<text class="t" x="-80.375 -71.75 -62.75 -54.25 -45.625 -40.875 -31.875 -23 -18.375 -9.25" transform="translate(238.29,403.25) rotate(-30)">2025-08-13</text>
<text class="t" x="-79.875 -71.375 -62.25 -53.875 -45.125 -40.25 -31.375 -22.625 -17.75 -8.875" transform="translate(289.87,403.25) rotate(-30)">2025-08-17</text>
<text class="t" x="-80.75 -71.875 -63.25 -54.5 -45.125 -40.875 -32.125 -23.625 -18.25 -9.5" transform="translate(341.45,403.25) rotate(-30)">2025-08-21</text>
<text class="t" x="-80.25 -71.75 -62.75 -54 -45.625 -40.375 -31.625 -23.125 -17.75 -9.125" transform="translate(393.03,403.25) rotate(-30)">2025-08-25</text>
<text class="t" x="-80.75 -72 -63.25 -54.625 -45.625 -41.125 -32.125 -23.125 -18.375 -9.625" transform="translate(444.61,403.25) rotate(-30)">2025-08-29</text>
<text class="t" x="-80.375 -71.75 -62.75 -54.25 -45.625 -40.875 -31.875 -23.125 -18.375 -9.375" transform="translate(483.30,403.25) rotate(-30)">2025-09-01</text>
<text class="t" x="-80.25 -71.375 -62.25 -53.875 -45.125 -40.25 -31.375 -22.625 -17.75 -8.875" transform="translate(534.88,403.25) rotate(-30)">2025-09-05</text>
<text class="t" x="40.92 48.67 53.045 61.795" y="390">0.00</text>
<text class="t" x="40.92 48.67 53.045 61.92" y="336">0.05</text>
<text class="t" x="40.045 47.795 52.17 61.045" y="283">0.10</text>
<text class="t" x="40.045 47.795 52.17 61.045" y="229">0.15</text>
<text class="t" x="40.92 48.67 53.045 61.795" y="176">0.20</text>
<text class="t" x="41.045 48.795 52.92 61.92" y="123">0.25</text>
<text class="t" x="40.92 48.67 53.17 61.795" y="69">0.30</text>
<text class="t" x="312 321.75 330.375 335.625" y="462">Date</text>
<text class="t" x="0.75 8.359 16.734 20.484 29.234" transform="translate(30,241.75) rotate(-90)">Value</text>
<text class="h" text-anchor="middle" transform="translate(328,49) scale(1,1.08)">Parameter values</text>
</svg></body></html>
